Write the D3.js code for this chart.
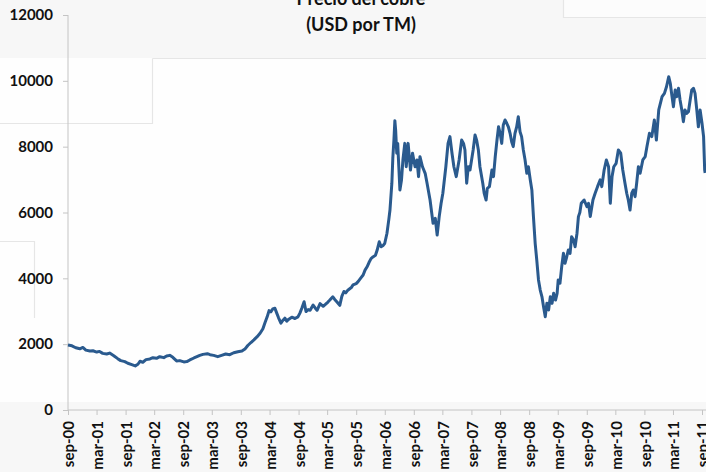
<!DOCTYPE html>
<html>
<head>
<meta charset="utf-8">
<script src="https://cdn.jsdelivr.net/npm/d3@7"></script>
<style>
  html, body { margin: 0; padding: 0; background: #f8f8f8; }
  svg { display: block; }
  text { font-family: Lato, "Open Sans", sans-serif; font-weight: 700; fill: #111; }
</style>
</head>
<body>
<svg id="chart" width="706" height="472"></svg>
<script>
// Copper price, LME cash, USD per metric tonne
const titleLines = ["Precio del cobre", "(USD por TM)"];

const dates = [
  "2000-09-01","2000-09-26","2000-10-20","2000-11-15","2000-12-04","2000-12-23","2001-01-18","2001-02-06",
  "2001-03-02","2001-03-20","2001-04-09","2001-05-04","2001-05-23","2001-06-18","2001-07-13","2001-08-01",
  "2001-08-27","2001-09-15","2001-10-10","2001-11-01","2001-11-18","2001-12-01","2001-12-19","2002-01-08",
  "2002-02-02","2002-02-21","2002-03-16","2002-04-05","2002-05-01","2002-05-19","2002-06-08","2002-06-27",
  "2002-07-21","2002-08-10","2002-09-05","2002-09-24","2002-10-13","2002-11-08","2002-11-27","2002-12-15",
  "2003-01-04","2003-02-01","2003-02-18","2003-03-13","2003-04-08","2003-05-02","2003-05-28","2003-06-23",
  "2003-07-18","2003-08-13","2003-09-08","2003-09-27","2003-10-15","2003-11-04","2003-11-23","2003-12-12",
  "2004-01-01","2004-01-19","2004-02-01","2004-02-15","2004-02-27","2004-03-09","2004-03-21","2004-04-04",
  "2004-04-15","2004-04-27","2004-05-12","2004-05-24","2004-06-06","2004-06-18","2004-07-01","2004-07-20",
  "2004-08-09","2004-08-28","2004-09-10","2004-09-22","2004-10-06","2004-10-18","2004-11-01","2004-11-13",
  "2004-12-02","2004-12-15","2004-12-27","2005-01-15","2005-02-04","2005-02-16","2005-03-06","2005-03-18",
  "2005-04-06","2005-04-18","2005-05-01","2005-05-20","2005-06-02","2005-06-15","2005-06-27","2005-07-10",
  "2005-08-01","2005-08-12","2005-09-01","2005-09-13","2005-10-02","2005-10-15","2005-10-27","2005-11-09",
  "2005-11-21","2005-12-04","2005-12-16","2006-01-01","2006-01-12","2006-01-25","2006-02-06","2006-02-19",
  "2006-03-01","2006-03-15","2006-03-27","2006-04-03","2006-04-15","2006-04-21","2006-04-28","2006-05-04",
  "2006-05-09","2006-05-16","2006-05-22","2006-05-29","2006-06-05","2006-06-15","2006-06-24","2006-07-06",
  "2006-07-15","2006-07-27","2006-08-11","2006-08-24","2006-09-09","2006-09-21","2006-10-01","2006-10-10",
  "2006-10-26","2006-11-12","2006-11-24","2006-12-13","2007-01-01","2007-01-15","2007-01-27","2007-02-09",
  "2007-02-21","2007-03-04","2007-03-23","2007-04-06","2007-04-18","2007-05-01","2007-05-13","2007-05-28",
  "2007-06-15","2007-07-01","2007-07-13","2007-07-22","2007-08-02","2007-08-12","2007-08-23","2007-09-12",
  "2007-09-24","2007-10-04","2007-10-15","2007-10-25","2007-11-12","2007-11-21","2007-12-03","2007-12-11",
  "2007-12-24","2008-01-09","2008-01-19","2008-01-30","2008-02-10","2008-02-20","2008-03-01","2008-03-11",
  "2008-03-21","2008-04-01","2008-04-12","2008-04-22","2008-05-03","2008-05-13","2008-05-23","2008-06-03",
  "2008-06-14","2008-06-24","2008-07-05","2008-07-15","2008-07-26","2008-08-06","2008-08-17","2008-08-27",
  "2008-09-08","2008-09-18","2008-09-28","2008-10-09","2008-10-19","2008-10-30","2008-11-10","2008-11-21",
  "2008-12-01","2008-12-12","2008-12-22","2009-01-02","2009-01-13","2009-01-24","2009-02-03","2009-02-15",
  "2009-02-25","2009-03-04","2009-03-15","2009-03-26","2009-04-06","2009-04-16","2009-04-27","2009-05-07",
  "2009-05-18","2009-05-28","2009-06-09","2009-06-19","2009-07-01","2009-07-10","2009-07-19","2009-07-28",
  "2009-08-15","2009-09-02","2009-09-12","2009-09-23","2009-10-10","2009-10-24","2009-11-08","2009-11-25",
  "2009-12-05","2009-12-20","2010-01-03","2010-01-17","2010-01-28","2010-02-08","2010-02-19","2010-03-06",
  "2010-03-20","2010-04-04","2010-04-17","2010-05-01","2010-05-12","2010-05-22","2010-06-02","2010-06-13",
  "2010-06-23","2010-07-04","2010-07-14","2010-07-25","2010-08-05","2010-08-22","2010-09-06","2010-09-17",
  "2010-10-03","2010-10-18","2010-11-03","2010-11-16","2010-12-01","2010-12-22","2011-01-06","2011-01-19",
  "2011-02-02","2011-02-12","2011-02-23","2011-03-04","2011-03-15","2011-03-25","2011-04-05","2011-04-15",
  "2011-04-26","2011-05-06","2011-05-16","2011-05-27","2011-06-07","2011-06-18","2011-06-28","2011-07-09",
  "2011-07-19","2011-07-30","2011-08-09","2011-08-20","2011-09-01","2011-09-11","2011-09-18","2011-09-21"
];

const prices = [
  1975,1950,1890,1860,1900,1820,1790,1800,
  1760,1780,1720,1700,1730,1650,1560,1500,
  1470,1420,1380,1340,1390,1480,1450,1530,
  1550,1590,1570,1620,1590,1640,1660,1600,
  1490,1500,1460,1470,1520,1580,1620,1660,
  1690,1710,1680,1660,1620,1660,1700,1680,
  1740,1770,1790,1850,1960,2050,2130,2220,
  2330,2470,2650,2830,3020,2980,3070,3090,
  2950,2800,2640,2720,2790,2700,2760,2820,
  2780,2830,2950,3100,3290,2990,3050,3030,
  3190,3100,3030,3230,3150,3200,3280,3340,
  3440,3360,3290,3180,3450,3600,3560,3640,
  3720,3800,3840,3900,4020,4100,4250,4350,
  4480,4600,4650,4700,4860,5110,4960,5000,
  5065,5370,5800,6075,6890,7650,8200,8790,
  8500,7800,8100,7390,6685,6990,7595,8100,
  7390,8100,7290,7800,7390,7595,7090,7695,
  7390,7190,6890,6380,5670,5825,5315,5875,
  6280,6585,7390,8100,8305,7800,7390,7090,
  7595,8200,8100,7900,6890,7390,7290,7900,
  8355,8200,7900,7390,6890,6585,6380,6735,
  6785,7290,7090,7695,8200,8605,8405,8100,
  8660,8810,8710,8605,8405,8150,8000,8405,
  8605,8910,8455,8305,7900,7595,7190,7390,
  6990,6685,5875,5065,4560,3950,3645,3440,
  3140,2835,3240,3040,3440,3240,3545,3340,
  3545,3950,3850,4350,4760,4455,4655,4860,
  4760,5265,5165,4960,5370,5875,6000,6280,
  6380,6175,6280,5875,6380,6585,6785,6990,
  6785,7290,7595,7390,6280,7090,7390,7495,
  7900,7800,7290,6890,6585,6380,6075,6585,
  6685,6480,6890,7390,7190,7595,7695,8000,
  8405,8305,8810,8200,9115,9520,9620,9820,
  10125,9925,9520,9215,9720,9520,9775,9420,
  9115,8760,9115,9010,9060,9420,9720,9775,
  9620,9115,8605,9115,8710,8305,7290,7200
];

const yTicks = [0, 2000, 4000, 6000, 8000, 10000, 12000];
const xTickDates = [
  "2000-09-01","2001-03-01","2001-09-01","2002-03-01","2002-09-01","2003-03-01",
  "2003-09-01","2004-03-01","2004-09-01","2005-03-01","2005-09-01","2006-03-01",
  "2006-09-01","2007-03-01","2007-09-01","2008-03-01","2008-09-01","2009-03-01",
  "2009-09-01","2010-03-01","2010-09-01","2011-03-01","2011-09-01"
];
const xTickLabels = [
  "sep-00","mar-01","sep-01","mar-02","sep-02","mar-03",
  "sep-03","mar-04","sep-04","mar-05","sep-05","mar-06",
  "sep-06","mar-07","sep-07","mar-08","sep-08","mar-09",
  "sep-09","mar-10","sep-10","mar-11","sep-11"
];

const parse = d3.utcParse("%Y-%m-%d");
const series = dates.map((d, i) => ({ date: parse(d), value: prices[i] }));

const svg = d3.select("#chart");

// slide backdrop: pale grey frame around a white chart area with faint panel edges
const bg = svg.append("g");
bg.append("rect").attr("x", 0).attr("y", 0).attr("width", 706).attr("height", 472).attr("fill", "#f7f7f7");
bg.append("rect").attr("x", 0).attr("y", 58).attr("width", 706).attr("height", 344).attr("fill", "#fefefe");
bg.append("rect").attr("x", 563).attr("y", 0).attr("width", 143).attr("height", 17).attr("fill", "#fcfcfc");
const edge = "#e6e6e6";
bg.append("path").attr("fill", "none").attr("stroke", edge).attr("stroke-width", 1.2)
  .attr("d", "M152.5,58.5H706 M152.5,58.5V123.5H0 M563.5,0V17.5H706 M0,241.5H34.5V318");

const x = d3.scaleUtc()
  .domain([parse("2000-09-01"), parse("2011-09-01")])
  .range([68, 702]);
const y = d3.scaleLinear().domain([0, 12000]).range([410, 15]);

const labelFont = 15;

// y axis
const yAxis = svg.append("g").attr("transform", "translate(68,0)")
  .call(d3.axisLeft(y).tickValues(yTicks).tickSize(5).tickPadding(10).tickFormat(d3.format("d")));
yAxis.select(".domain").attr("stroke", "#c4c4c4").attr("d", "M0,15V410");
yAxis.selectAll(".tick line").attr("stroke", "#c4c4c4");
yAxis.selectAll("text").attr("font-size", labelFont).attr("fill", "#111")
  .style("font-family", "Lato, sans-serif").style("font-weight", 700);

// x axis
const xAxis = svg.append("g").attr("transform", "translate(0,410)")
  .call(d3.axisBottom(x).tickValues(xTickDates.map(parse)).tickSize(5)
    .tickFormat((d, i) => xTickLabels[i]));
xAxis.select(".domain").attr("stroke", "#c4c4c4").attr("d", "M68,0H706");
xAxis.selectAll(".tick line").attr("stroke", "#c4c4c4");
xAxis.selectAll("text")
  .attr("font-size", labelFont).attr("fill", "#111")
  .style("font-family", "Lato, sans-serif").style("font-weight", 700)
  .attr("text-anchor", "end")
  .attr("transform", "rotate(-90)")
  .attr("x", -11).attr("y", 0).attr("dy", "0.38em");

// price line
const line = d3.line().x(d => x(d.date)).y(d => y(d.value));
svg.append("path").datum(series)
  .attr("fill", "none")
  .attr("stroke", "#2a5a8e")
  .attr("stroke-width", 3)
  .attr("stroke-linejoin", "round")
  .attr("d", line);

// title
svg.append("g").selectAll("text").data(titleLines).join("text")
  .attr("x", 361).attr("y", (d, i) => 5 + i * 26)
  .attr("text-anchor", "middle")
  .attr("font-size", 18)
  .text(d => d);
</script>
</body>
</html>
